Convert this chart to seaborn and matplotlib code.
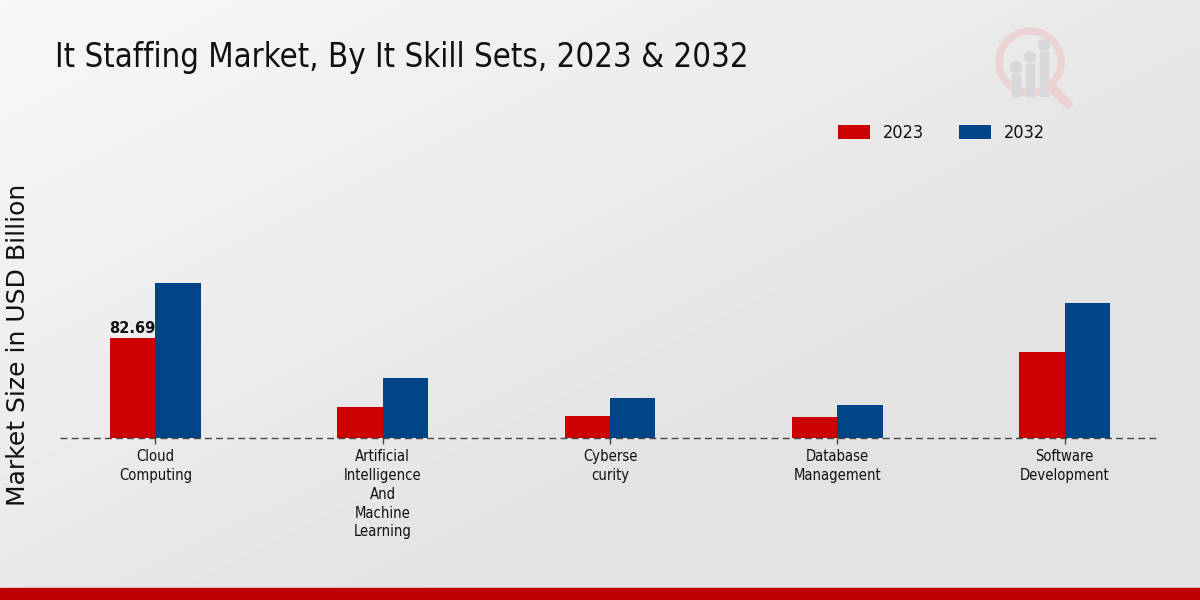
import numpy as np
import pandas as pd
import matplotlib
matplotlib.use("Agg")
import matplotlib.pyplot as plt
import seaborn as sns
from matplotlib.patches import Rectangle, Circle, Wedge

categories = ["Cloud\nComputing", "Artificial\nIntelligence\nAnd\nMachine\nLearning",
              "Cyberse\ncurity", "Database\nManagement", "Software\nDevelopment"]
years = ["2023", "2032"]
values_2023 = [82.69, 25.6, 18.2, 17.4, 71.1]
values_2032 = [128.2, 49.6, 33.1, 27.3, 111.6]
colors = ["#cc0000", "#004488"]

df = pd.DataFrame({
    "Category": categories * 2,
    "Year": [years[0]] * len(categories) + [years[1]] * len(categories),
    "Value": values_2023 + values_2032,
})

sns.set_theme(style="white")
plt.rcParams["font.family"] = ["DejaVu Sans"]

fig = plt.figure(figsize=(12, 6), dpi=100)

# gradient background: light at top-left, darker toward bottom-right
bg = fig.add_axes([0, 0, 1, 1], zorder=-10)
xx, yy = np.meshgrid(np.linspace(0, 1, 300), np.linspace(0, 1, 150))
grad = 0.5 * xx + 0.5 * yy
bg.imshow(grad, cmap=matplotlib.colors.LinearSegmentedColormap.from_list(
    "g", ["#f8f8f8", "#e3e3e3"]), aspect="auto", extent=[0, 1, 0, 1], origin="upper",
    vmin=0, vmax=0.7)
bg.set_axis_off()
bg.add_patch(Rectangle((0, 0), 1, 12 / 600, color="#bf0000", transform=bg.transAxes))
bg.set_xlim(0, 1); bg.set_ylim(0, 1)

# faint logo watermark in its own equal-aspect axes
lg = fig.add_axes([988 / 1200, 1 - 112 / 600, 90 / 1200, 90 / 600], zorder=-5)
lg.set_xlim(0, 90); lg.set_ylim(0, 90); lg.set_axis_off()
lg.add_patch(Wedge((42, 50), 34, 0, 360, width=6, color="#ecd3d3"))
lg.plot([64, 80], [24, 8], color="#ecd3d3", lw=7, solid_capstyle="round")
for bx, bh in [(28, 22), (42, 32), (56, 44)]:
    lg.add_patch(Rectangle((bx - 4, 16), 8, bh, color="#d8d8db"))
    lg.add_patch(Circle((bx, 16 + bh + 7), 5.5, color="#d8d8db"))

ax = fig.add_axes([60 / 1200, (600 - 438) / 600, 1100 / 1200, 308 / 600])
ax.patch.set_alpha(0)
sns.barplot(data=df, x="Category", y="Value", hue="Year", palette=colors,
            width=0.4, ax=ax, linewidth=0, saturation=1)

ax.set_xlim(-0.42, 4.42)
ax.set_ylim(0, 308 * 82.69 / 100)
ax.axhline(0, color="#444444", linestyle=(0, (5, 3)), linewidth=1.0, zorder=5, clip_on=False)
for s in ax.spines.values():
    s.set_visible(False)
ax.set_yticks([])
ax.set_xlabel("")
ax.set_ylabel("")
ax.tick_params(axis="x", bottom=True, length=4, width=1, color="#444444", pad=4)
for lbl in ax.get_xticklabels():
    lbl.set_fontsize(10.6)
    lbl.set_fontstretch("condensed")
    lbl.set_linespacing(1.32)
    lbl.set_color("#111111")

bar0 = ax.containers[0].patches[0]
ax.text(bar0.get_x() + bar0.get_width() / 2, bar0.get_height() + 1.5, f"{values_2023[0]:.2f}",
        ha="center", va="bottom", fontsize=10.5, fontweight="bold", color="#111111")

handles = ax.get_legend().legend_handles
ax.get_legend().remove()
fig.legend(handles=handles, labels=years, loc="center left",
           bbox_to_anchor=(822 / 1200, 1 - 133 / 600), ncol=2, frameon=False,
           prop={"size": 13, "stretch": "condensed"}, handlelength=1.77, handleheight=0.85,
           columnspacing=1.9, handletextpad=0.72, labelcolor="#111111")

fig.text(55 / 1200, 1 - 58 / 600, "It Staffing Market, By It Skill Sets, 2023 & 2032",
         fontsize=23.6, ha="left", va="center", fontstretch="condensed", color="#111111")
fig.text(18 / 1200, 1 - 345 / 600, "Market Size in USD Billion", rotation=90,
         fontsize=18, ha="center", va="center", color="#111111")

fig.savefig("out.png", dpi=100)
